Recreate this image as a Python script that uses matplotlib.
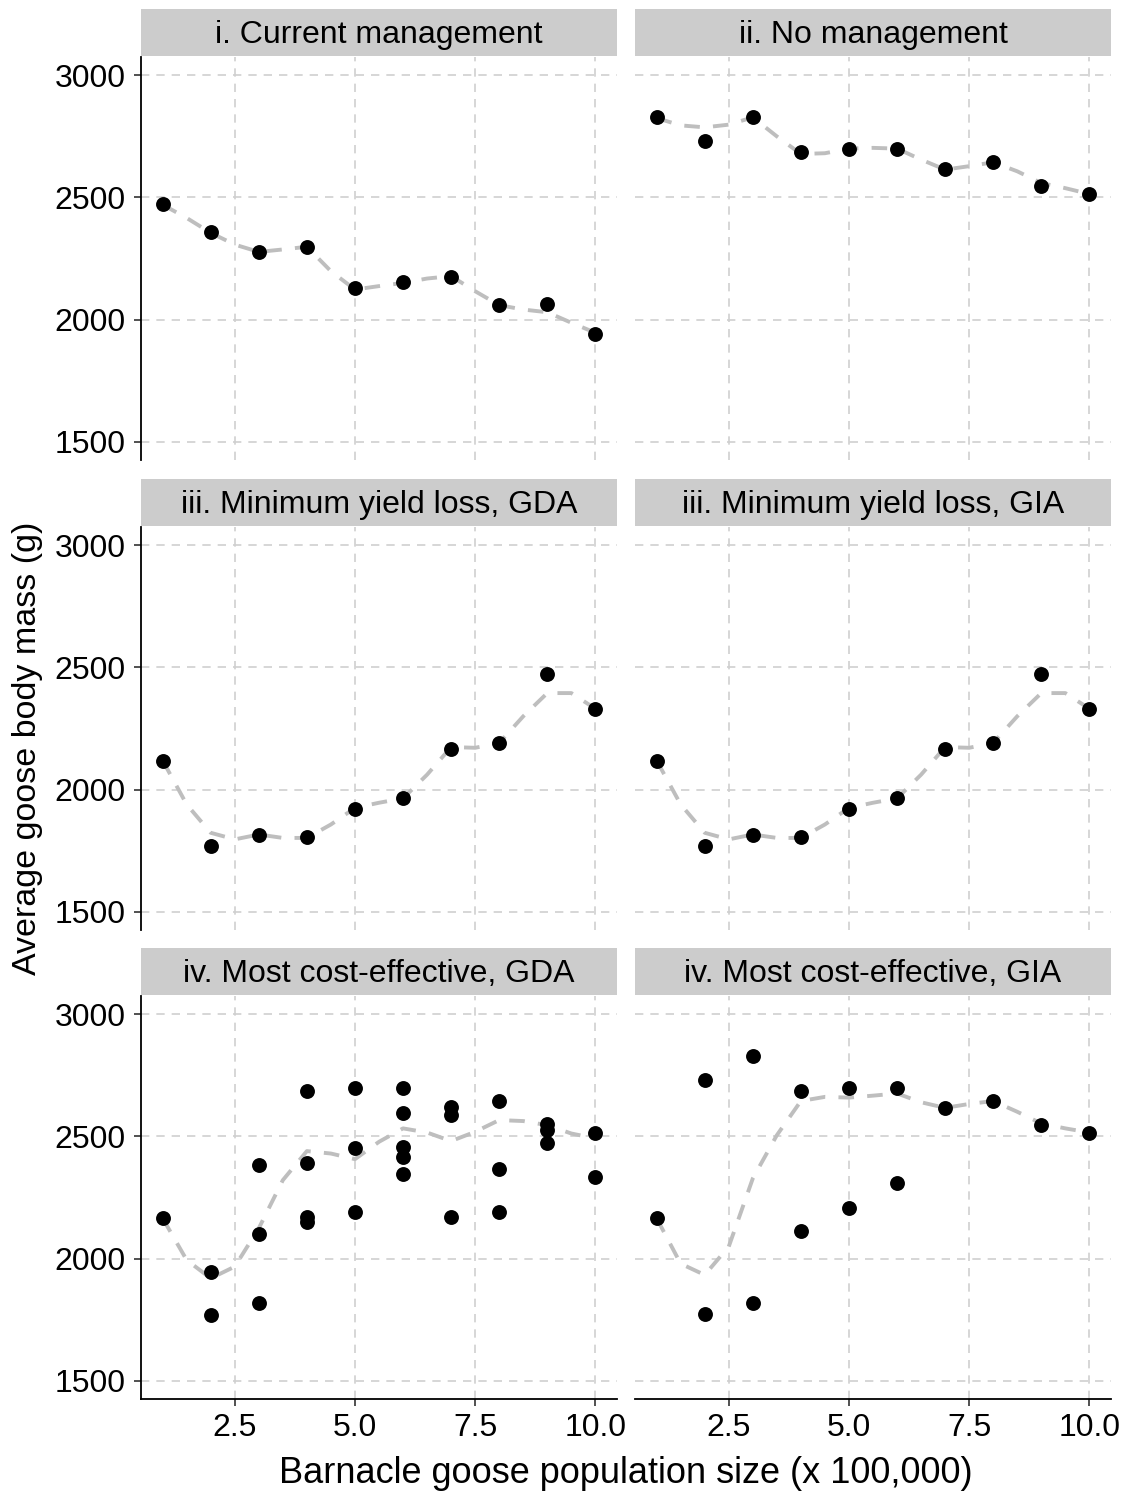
import matplotlib
matplotlib.use("Agg")
import matplotlib.pyplot as plt
from matplotlib.patches import Rectangle

plt.rcParams["font.family"] = ["Liberation Sans", "DejaVu Sans"]

# population size (x 100,000)
POP_SIZE = [1, 2, 3, 4, 5, 6, 7, 8, 9, 10]
SMOOTH_X = [1.0, 1.5, 2.0, 2.5, 3.0, 3.5, 4.0, 4.5, 5.0, 5.5,
            6.0, 6.5, 7.0, 7.5, 8.0, 8.5, 9.0, 9.5, 10.0]

PANEL_TITLES = ["i. Current management", "ii. No management",
                "iii. Minimum yield loss, GDA", "iii. Minimum yield loss, GIA",
                "iv. Most cost-effective, GDA", "iv. Most cost-effective, GIA"]

# average goose body mass (g)
CURRENT_MASS = [2472, 2357, 2278, 2296, 2130, 2153, 2173, 2060, 2063, 1941]
NO_MGMT_MASS = [2830, 2730, 2828, 2686, 2700, 2700, 2617, 2644, 2546, 2514]
MIN_YIELD_GDA_MASS = [2118, 1768, 1816, 1806, 1921, 1966, 2166, 2190, 2473, 2331]
MIN_YIELD_GIA_MASS = [2118, 1768, 1816, 1806, 1921, 1966, 2166, 2190, 2473, 2331]

COST_GDA_POP = [1, 2, 2, 3, 3, 3, 4, 4, 4, 4, 5, 5, 5, 6, 6, 6, 6, 6,
                7, 7, 7, 8, 8, 8, 9, 9, 9, 10, 10]
COST_GDA_MASS = [2165, 1945, 1769, 2383, 2099, 1817, 2685, 2390, 2171, 2151,
                 2699, 2451, 2192, 2699, 2598, 2458, 2414, 2346,
                 2621, 2587, 2169, 2645, 2365, 2192, 2549, 2526, 2475, 2516, 2334]
COST_GIA_POP = [1, 2, 2, 3, 3, 4, 4, 5, 5, 6, 6, 7, 8, 9, 10]
COST_GIA_MASS = [2165, 2733, 1772, 2829, 1817, 2685, 2113, 2699, 2205,
                 2699, 2310, 2617, 2645, 2546, 2516]

# smoothed trend at SMOOTH_X
CURRENT_TREND = [2470, 2416, 2355, 2307, 2277, 2287, 2298, 2198, 2123, 2137,
                 2150, 2168, 2178, 2116, 2059, 2041, 2030, 1987, 1946]
NO_MGMT_TREND = [2825, 2795, 2787, 2798, 2828, 2750, 2678, 2681, 2700, 2703,
                 2700, 2655, 2614, 2628, 2644, 2607, 2559, 2538, 2514]
MIN_YIELD_TREND = [2119, 1939, 1823, 1796, 1816, 1802, 1802, 1857, 1925, 1946,
                   1964, 2061, 2174, 2171, 2191, 2300, 2395, 2395, 2331]
COST_GDA_TREND = [2165, 1994, 1919, 1967, 2124, 2321, 2440, 2430, 2407, 2478,
                  2533, 2516, 2481, 2519, 2567, 2563, 2546, 2512, 2492]
COST_GIA_TREND = [2165, 1979, 1933, 2049, 2328, 2505, 2645, 2662, 2659, 2667,
                  2676, 2640, 2617, 2633, 2645, 2601, 2553, 2533, 2516]

PANELS = [
    (POP_SIZE, CURRENT_MASS, CURRENT_TREND),
    (POP_SIZE, NO_MGMT_MASS, NO_MGMT_TREND),
    (POP_SIZE, MIN_YIELD_GDA_MASS, MIN_YIELD_TREND),
    (POP_SIZE, MIN_YIELD_GIA_MASS, MIN_YIELD_TREND),
    (COST_GDA_POP, COST_GDA_MASS, COST_GDA_TREND),
    (COST_GIA_POP, COST_GIA_MASS, COST_GIA_TREND),
]

W, H = 1125, 1492
COL_LEFT = [141, 635]
PANEL_W = 476
ROW_TOP = [57, 527, 996]
PANEL_H = 403
STRIP_H = 47

fig = plt.figure(figsize=(W / 100, H / 100), dpi=100)

for i, (xs, ys, trend) in enumerate(PANELS):
    row, col = divmod(i, 2)
    left = COL_LEFT[col] / W
    bottom = 1 - (ROW_TOP[row] + PANEL_H) / H
    ax = fig.add_axes([left, bottom, PANEL_W / W, PANEL_H / H])

    ax.plot(SMOOTH_X, trend, color="#bebebe", lw=2.8, dashes=(4.0, 3.4),
            solid_capstyle="butt", zorder=2)
    ax.scatter(xs, ys, s=115, color="black", linewidths=0, zorder=3)

    ax.set_xlim(0.55, 10.45)
    ax.set_ylim(1425, 3075)
    ax.set_xticks([2.5, 5.0, 7.5, 10.0])
    ax.set_yticks([1500, 2000, 2500, 3000])
    ax.grid(True, color="#cfcfcf", lw=1.2, linestyle=(0, (5.0, 4.2)))
    ax.set_axisbelow(True)

    for side in ["top", "right"]:
        ax.spines[side].set_visible(False)
    ax.spines["left"].set_visible(col == 0)
    ax.spines["bottom"].set_visible(row == 2)
    ax.spines["left"].set_linewidth(1.3)
    ax.spines["bottom"].set_linewidth(1.3)

    ax.tick_params(axis="y", length=5 if col == 0 else 0, width=1.1,
                   labelsize=23, pad=6, labelleft=(col == 0), color="#222222")
    ax.tick_params(axis="x", length=5 if row == 2 else 0, width=1.1,
                   labelsize=23, pad=5, labelbottom=(row == 2), color="#222222")

    # facet strip
    strip_h = STRIP_H / PANEL_H
    ax.add_patch(Rectangle((0, 1.0025), 1, strip_h, transform=ax.transAxes,
                           facecolor="#cccccc", edgecolor="none", clip_on=False))
    ax.text(0.5, 1.0025 + strip_h / 2 - 0.006, PANEL_TITLES[i], transform=ax.transAxes,
            ha="center", va="center", fontsize=23)

fig.text(28 / W, 1 - 748 / H, "Average goose body mass (g)", rotation=90,
         ha="center", va="center", fontsize=24.5)
fig.text(626 / W, 1 - 1483 / H, "Barnacle goose population size (x 100,000)",
         ha="center", va="baseline", fontsize=26)

fig.savefig("out.png", dpi=100)
